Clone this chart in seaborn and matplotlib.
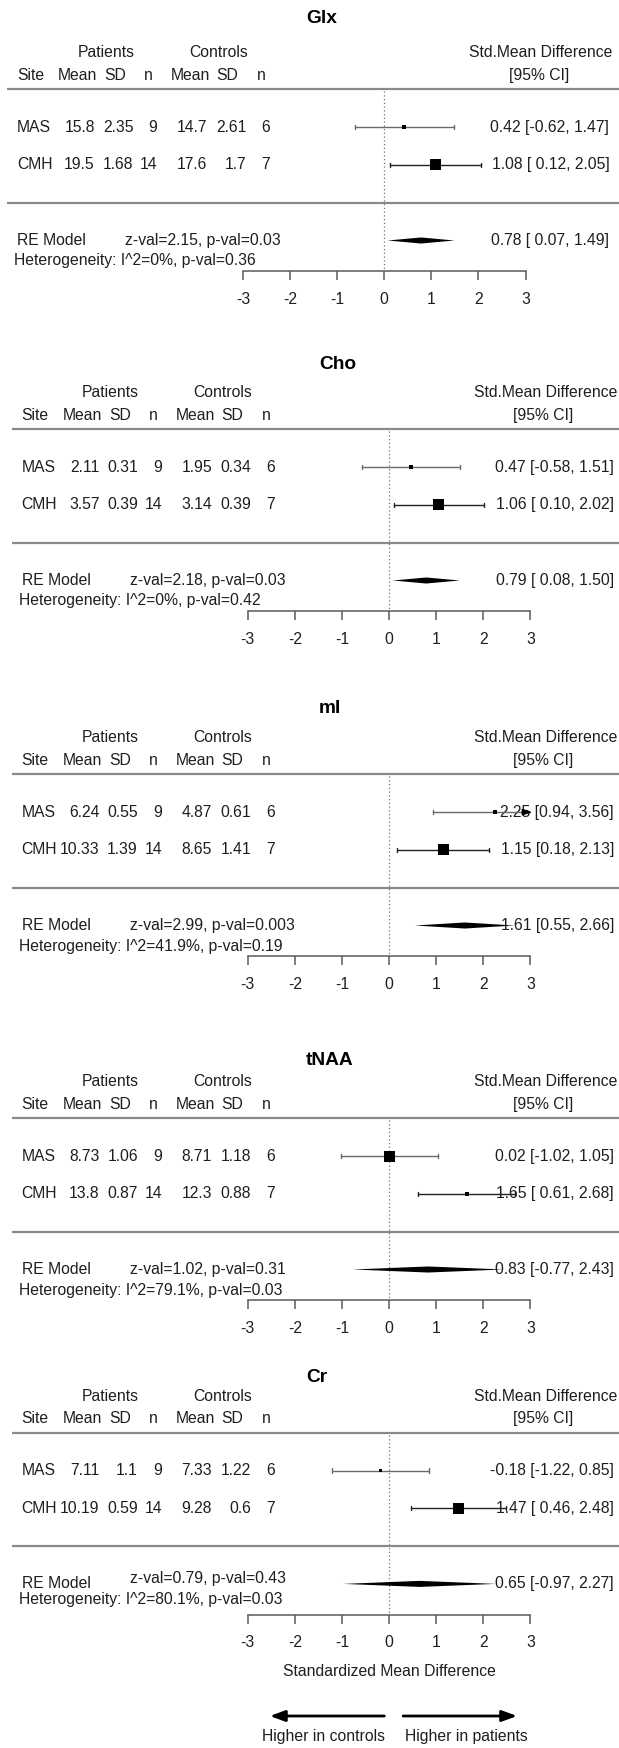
import matplotlib
matplotlib.use("Agg")
import matplotlib.pyplot as plt
import pandas as pd
import seaborn as sns
from matplotlib.patches import Polygon

sns.set_theme(style="white")
plt.rcParams['font.family'] = ['Liberation Sans', 'DejaVu Sans']

# ---- data ----
metabolites = ['Glx', 'Cho', 'mI', 'tNAA', 'Cr']
sites = ['MAS', 'CMH']

pat_mean = [[15.8, 19.5], [2.11, 3.57], [6.24, 10.33], [8.73, 13.8], [7.11, 10.19]]
pat_sd = [[2.35, 1.68], [0.31, 0.39], [0.55, 1.39], [1.06, 0.87], [1.1, 0.59]]
pat_n = [9, 14]
con_mean = [[14.7, 17.6], [1.95, 3.14], [4.87, 8.65], [8.71, 12.3], [7.33, 9.28]]
con_sd = [[2.61, 1.7], [0.34, 0.39], [0.61, 1.41], [1.18, 0.88], [1.22, 0.6]]
con_n = [6, 7]

smd = [[0.42, 1.08], [0.47, 1.06], [2.25, 1.15], [0.02, 1.65], [-0.18, 1.47]]
smd_lo = [[-0.62, 0.12], [-0.58, 0.10], [0.94, 0.18], [-1.02, 0.61], [-1.22, 0.46]]
smd_hi = [[1.47, 2.05], [1.51, 2.02], [3.56, 2.13], [1.05, 2.68], [0.85, 2.48]]
heavier = ['CMH', 'CMH', 'CMH', 'MAS', 'CMH']

re_est = [0.78, 0.79, 1.61, 0.83, 0.65]
re_lo = [0.07, 0.08, 0.55, -0.77, -0.97]
re_hi = [1.49, 1.50, 2.66, 2.43, 2.27]
z_val = ['2.15', '2.18', '2.99', '1.02', '0.79']
p_val = ['0.03', '0.03', '0.003', '0.31', '0.43']
i2 = ['0', '0', '41.9', '79.1', '80.1']
het_p = ['0.36', '0.42', '0.19', '0.03', '0.03']

ticks = [-3, -2, -1, 0, 1, 2, 3]

# ---- layout (pixels) ----
W, H = 619, 1748
unit = 47.1      # px per SMD unit
row = 37.8       # px per row
top_line = [89.3, 429.3, 774.3, 1118.3, 1432.7]
zero_px = [384.3, 389, 389, 389, 389]
title_above = [71, 65, 66, 58, 55.5]
title_px = [322, 337.5, 330, 330, 317]
stat_raise = [0, 0, 0, 0, 5]     # Cr panel has its z-val line nudged up
ymin, ymax = -2.9, 5.2
fs = 11.3
txt = '#1e1e1e'


def dx(p):
    # pixel column (measured on a 0-at-389 panel) -> data x
    return (p - 389) / unit


def fmt(v):
    return f"{v:g}"


fig = plt.figure(figsize=(W / 100, H / 100), dpi=100)

for i, name in enumerate(metabolites):
    top = top_line[i]
    bottom_px = top + (3 - ymin) * row
    ax = fig.add_axes([0, 1 - bottom_px / H, 1, (ymax - ymin) * row / H])
    ax.set_facecolor('none')

    rows_y = [2, 1]
    df = pd.DataFrame({
        'site': sites, 'smd': smd[i], 'lo': smd_lo[i], 'hi': smd_hi[i], 'y': rows_y,
        'weight': ['big' if s == heavier[i] else 'small' for s in sites],
    })

    # separators and reference line
    for yy in (3, 0):
        ax.plot([-8.0, 8], [yy, yy], color='#8a8a8a', lw=1.6, solid_capstyle='butt', zorder=1)
    ax.plot([0, 0], [2.95, -1.82], color='#777777', lw=0.9, ls=(0, (1, 2)), zorder=1)

    # CIs
    for r, (lo, hi, y) in enumerate(zip(df['lo'], df['hi'], df['y'])):
        col = '#6a6a6a' if r == 0 else '#222222'
        hi_c = min(hi, 3)
        ax.plot([lo, hi_c], [y, y], color=col, lw=1.0, zorder=2)
        ax.plot([lo, lo], [y - 0.055, y + 0.055], color=col, lw=1.0, zorder=2)
        if hi > 3:
            ax.add_patch(Polygon([(3, y), (3 - 0.17, y + 0.07), (3 - 0.17, y - 0.07)],
                                 closed=True, color='black', zorder=3))
        else:
            ax.plot([hi, hi], [y - 0.055, y + 0.055], color=col, lw=1.0, zorder=2)

    sns.scatterplot(data=df, x='smd', y='y', size='weight', sizes={'big': 62, 'small': 7},
                    marker='s', color='black', linewidth=0, legend=False, ax=ax, zorder=3)

    # summary diamond
    ax.add_patch(Polygon([(re_lo[i], -1), (re_est[i], -0.92), (re_hi[i], -1), (re_est[i], -1.08)],
                         closed=True, color='black', lw=0, zorder=3))

    # headers
    ax.text((title_px[i] - zero_px[i]) / unit, 3 + title_above[i] / row, name,
            ha='center', va='center', fontsize=13.8, fontweight='bold', color='black')
    gy, sy = 3 + 36.5 / row, 3 + 14 / row
    ax.text(dx(110.5), gy, 'Patients', ha='center', va='center', fontsize=fs, color=txt)
    ax.text(dx(223), gy, 'Controls', ha='center', va='center', fontsize=fs, color=txt)
    ax.text(dx(21.7), sy, 'Site', ha='left', va='center', fontsize=fs, color=txt)
    for lab, p in zip(['Mean', 'SD', 'n', 'Mean', 'SD', 'n'], [82, 120, 153, 195, 232, 266]):
        ax.text(dx(p), sy, lab, ha='center', va='center', fontsize=fs, color=txt)
    ax.text(dx(617), gy, 'Std.Mean Difference', ha='right', va='center', fontsize=fs, color=txt)
    ax.text(dx(543.6), sy, '[95% CI]', ha='center', va='center', fontsize=fs, color=txt)

    # study rows
    pad = any(v < 0 for v in smd_lo[i] + [re_lo[i]])

    def ci_text(est, lo, hi):
        lo_s = f"{lo:.2f}"
        if pad and lo >= 0:
            lo_s = ' ' + lo_s
        return f"{est:.2f} [{lo_s}, {hi:.2f}]"

    for r, y in enumerate(rows_y):
        ax.text(dx(21.7), y, sites[r], ha='left', va='center', fontsize=fs, color=txt)
        cells = [fmt(pat_mean[i][r]), fmt(pat_sd[i][r]), fmt(pat_n[r]),
                 fmt(con_mean[i][r]), fmt(con_sd[i][r]), fmt(con_n[r])]
        for c, p in zip(cells, [99.5, 138, 162, 212, 251, 275]):
            ax.text(dx(p), y, c, ha='right', va='center', fontsize=fs, color=txt)
        ax.text(dx(614), y, ci_text(smd[i][r], smd_lo[i][r], smd_hi[i][r]),
                ha='right', va='center', fontsize=fs, color=txt, zorder=1)

    # summary row
    up = stat_raise[i] / row
    ax.text(dx(21.7), -1, 'RE Model', ha='left', va='center', fontsize=fs, color=txt)
    ax.text(dx(130), -1 + up, f"z-val={z_val[i]}, p-val={p_val[i]}", ha='left', va='center',
            fontsize=fs, color=txt)
    ax.text(dx(19), -1 - 20.5 / row + up, f"Heterogeneity: I^2={i2[i]}%, p-val={het_p[i]}",
            ha='left', va='center', fontsize=fs, color=txt)
    ax.text(dx(614), -1, ci_text(re_est[i], re_lo[i], re_hi[i]),
            ha='right', va='center', fontsize=fs, color=txt, zorder=1)

    # axis
    ax.set_xlim(-zero_px[i] / unit, (W - zero_px[i]) / unit)
    ax.set_ylim(ymin, ymax)
    for s in ('top', 'left', 'right'):
        ax.spines[s].set_visible(False)
    ax.spines['bottom'].set_position(('data', -1.82))
    ax.spines['bottom'].set_bounds(-3, 3)
    ax.spines['bottom'].set_color('#5a5a5a')
    ax.spines['bottom'].set_linewidth(1.1)
    ax.set_xticks(ticks)
    ax.set_xticklabels([str(t) for t in ticks])
    ax.tick_params(axis='x', bottom=True, direction='out', length=6.7, width=1.1,
                   color='#5a5a5a', pad=8, labelsize=fs, labelcolor=txt)
    ax.set_yticks([])
    ax.set_xlabel('')
    ax.set_ylabel('')

    if i == len(metabolites) - 1:
        ax.text(0, 3 - 238.3 / row, 'Standardized Mean Difference', ha='center', va='center',
                fontsize=fs, color=txt, clip_on=False)
        ay = 3 - 283.3 / row
        for x0, x1 in ((-0.1, -2.53), (0.3, 2.72)):
            ax.annotate('', xy=(x1, ay), xytext=(x0, ay), annotation_clip=False,
                        arrowprops=dict(arrowstyle='-|>,head_length=0.6,head_width=0.22',
                                        mutation_scale=15, lw=2.0, color='black',
                                        shrinkA=0, shrinkB=0))
        ly = 3 - 304.3 / row
        ax.text(dx(385), ly, 'Higher in controls', ha='right', va='center', fontsize=fs,
                color=txt, clip_on=False)
        ax.text(dx(405), ly, 'Higher in patients', ha='left', va='center', fontsize=fs,
                color=txt, clip_on=False)

fig.savefig('out.png', dpi=100)
